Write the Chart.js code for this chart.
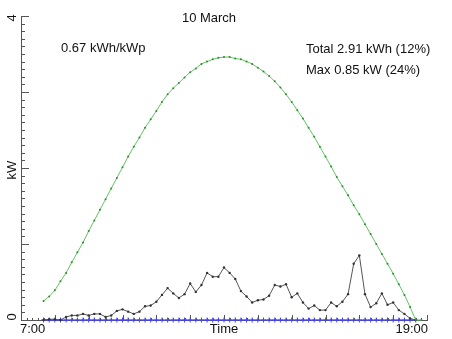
<!DOCTYPE html>
<html>
<head>
<meta charset="utf-8">
<script src="https://cdn.jsdelivr.net/npm/chart.js@4.4.1/dist/chart.umd.min.js"></script>
<style>
  html, body { margin: 0; padding: 0; background: #fff; }
  #wrap { width: 452px; height: 339px; position: relative; }
</style>
</head>
<body>
<div id="wrap"><canvas id="pvChart"></canvas></div>
<script>
// ======== Data (10 minute samples) ========
const times = [
    '7:40', '7:50',
    '8:00', '8:10', '8:20', '8:30', '8:40', '8:50',
    '9:00', '9:10', '9:20', '9:30', '9:40', '9:50',
    '10:00', '10:10', '10:20', '10:30', '10:40', '10:50',
    '11:00', '11:10', '11:20', '11:30', '11:40', '11:50',
    '12:00', '12:10', '12:20', '12:30', '12:40', '12:50',
    '13:00', '13:10', '13:20', '13:30', '13:40', '13:50',
    '14:00', '14:10', '14:20', '14:30', '14:40', '14:50',
    '15:00', '15:10', '15:20', '15:30', '15:40', '15:50',
    '16:00', '16:10', '16:20', '16:30', '16:40', '16:50',
    '17:00', '17:10', '17:20', '17:30', '17:40', '17:50',
    '18:00', '18:10', '18:20', '18:30', '18:40', '18:50'
];

// clear sky estimate (green)
const clearSky = [
    0.25, 0.31, 0.39, 0.51, 0.62, 0.76, 0.89, 1.02, 1.17, 1.31,
    1.45, 1.59, 1.73, 1.87, 2.01, 2.15, 2.28, 2.40, 2.53, 2.64,
    2.75, 2.87, 2.97, 3.05, 3.12, 3.19, 3.26, 3.31, 3.37, 3.40,
    3.43, 3.45, 3.46, 3.46, 3.44, 3.43, 3.40, 3.37, 3.32, 3.27,
    3.21, 3.14, 3.06, 2.97, 2.87, 2.76, 2.65, 2.53, 2.41, 2.28,
    2.15, 2.02, 1.88, 1.76, 1.64, 1.51, 1.39, 1.26, 1.13, 1.00,
    0.87, 0.74, 0.61, 0.47, 0.33, 0.17, 0.00, 0.00
];

// measured power (black)
const measured = [
    0.00, 0.01, 0.01, 0.00, 0.04, 0.06, 0.06, 0.08, 0.06, 0.08,
    0.08, 0.04, 0.06, 0.12, 0.14, 0.11, 0.08, 0.11, 0.18, 0.19,
    0.24, 0.33, 0.42, 0.35, 0.29, 0.34, 0.48, 0.37, 0.46, 0.62,
    0.57, 0.57, 0.69, 0.62, 0.54, 0.38, 0.31, 0.23, 0.26, 0.27,
    0.32, 0.46, 0.44, 0.47, 0.30, 0.35, 0.23, 0.15, 0.19, 0.13,
    0.13, 0.23, 0.18, 0.24, 0.34, 0.74, 0.85, 0.34, 0.17, 0.22,
    0.35, 0.20, 0.23, 0.13, 0.08, 0.02, 0.00
];

// baseline (blue)
const baseline = [
    0, 0, 0, 0, 0, 0, 0, 0, 0, 0,
    0, 0, 0, 0, 0, 0, 0, 0, 0, 0,
    0, 0, 0, 0, 0, 0, 0, 0, 0, 0,
    0, 0, 0, 0, 0, 0, 0, 0, 0, 0,
    0, 0, 0, 0, 0, 0, 0, 0, 0, 0,
    0, 0, 0, 0, 0, 0, 0, 0, 0, 0,
    0, 0, 0, 0, 0, 0, 0
];

const xTickLabels = ['7:00', 'Time', '19:00'];
const yTickLabels = ['0', '4'];
const yTitle = 'kW';
const titleText = '10 March';
const specText = '0.67 kWh/kWp';
const totalText = 'Total 2.91 kWh (12%)';
const maxText = 'Max 0.85 kW (24%)';

// ======== Helpers ========
function toHours(t) {
    const [h, m] = t.split(':').map(Number);
    return h + m / 60;
}

function toPoints(values) {
    return values.map((v, i) => ({ x: toHours(times[i]), y: v }));
}

const axisColor = '#555';
const textColor = '#111';
const FONT = '"Liberation Sans", Arial, Helvetica, sans-serif';

// ticks inside the axes + the text around the plot
const axisDecor = {
    id: 'axisDecor',
    beforeDatasetsDraw(chart) {
        const { ctx, chartArea: a, scales: { x, y } } = chart;
        ctx.save();
        ctx.strokeStyle = axisColor;
        ctx.lineWidth = 1;
        ctx.beginPath();
        for (let i = 0; i <= 40; i++) {
            const py = Math.round(y.getPixelForValue(i / 10)) + 0.5;
            const len = i % 10 === 0 ? 8 : 4;
            ctx.moveTo(a.left, py);
            ctx.lineTo(a.left + len, py);
        }
        for (let i = 0; i <= 72; i++) {
            const px = Math.round(x.getPixelForValue(7 + i / 6)) + 0.5;
            const len = i % 6 === 0 ? 5 : 2;
            ctx.moveTo(px, a.bottom);
            ctx.lineTo(px, a.bottom - len);
        }
        ctx.stroke();
        ctx.restore();
    },
    afterDraw(chart) {
        const { ctx, chartArea: a, scales: { x, y } } = chart;
        ctx.save();
        ctx.fillStyle = textColor;
        ctx.font = '13px ' + FONT;
        ctx.textBaseline = 'middle';

        // x labels
        const ly = a.bottom + 9;
        ctx.textAlign = 'left';
        ctx.fillText(xTickLabels[0], x.getPixelForValue(7) - 1, ly);
        ctx.textAlign = 'center';
        ctx.fillText(xTickLabels[1], x.getPixelForValue(13), ly);
        ctx.textAlign = 'right';
        ctx.fillText(xTickLabels[2], x.getPixelForValue(19) + 1, ly);

        // y labels, rotated
        const rot = (txt, px, py) => {
            ctx.save();
            ctx.translate(px, py);
            ctx.rotate(-Math.PI / 2);
            ctx.textAlign = 'center';
            ctx.fillText(txt, 0, 0);
            ctx.restore();
        };
        rot(yTickLabels[0], 12, y.getPixelForValue(0) - 3);
        rot(yTickLabels[1], 12, y.getPixelForValue(4) + 2);
        rot(yTitle, 12, (a.top + a.bottom) / 2 + 2);

        // annotations
        ctx.textAlign = 'center';
        ctx.fillText(titleText, 209, 18);
        ctx.textAlign = 'left';
        ctx.fillText(specText, 61, 48);
        ctx.fillText(totalText, 306, 49);
        ctx.fillText(maxText, 306, 70);
        ctx.restore();
    }
};

// ======== Chart ========
const ctx = document.getElementById('pvChart').getContext('2d');
const pvChart = new Chart(ctx, {
    type: 'line',
    data: {
        datasets: [
            {
                label: 'Clear sky',
                data: toPoints(clearSky),
                borderColor: '#62c462',
                borderWidth: 1,
                pointRadius: 1,
                pointBackgroundColor: '#2e8b2e',
                pointBorderWidth: 0,
                tension: 0,
                clip: false
            },
            {
                label: 'Power',
                data: toPoints(measured),
                borderColor: '#555',
                borderWidth: 1,
                pointRadius: 1.2,
                pointBackgroundColor: '#333',
                pointBorderWidth: 0,
                tension: 0,
                clip: false
            },
            {
                label: 'Zero',
                data: toPoints(baseline),
                borderColor: '#4444ff',
                borderWidth: 1,
                pointStyle: 'cross',
                pointRadius: 2.5,
                pointBorderColor: '#4444ff',
                pointBorderWidth: 1,
                tension: 0,
                clip: false
            }
        ]
    },
    options: {
        responsive: true,
        maintainAspectRatio: false,
        animation: false,
        layout: { padding: { left: 21, right: 25, top: 16, bottom: 19 } },
        scales: {
            x: {
                type: 'linear',
                min: 7,
                max: 19,
                grid: { display: false, drawTicks: false },
                ticks: { display: false },
                border: { display: true, color: axisColor, width: 1 }
            },
            y: {
                min: 0,
                max: 4,
                grid: { display: false, drawTicks: false },
                ticks: { display: false },
                border: { display: true, color: axisColor, width: 1 }
            }
        },
        plugins: {
            legend: { display: false },
            tooltip: { enabled: false }
        }
    },
    plugins: [axisDecor]
});
</script>
</body>
</html>
